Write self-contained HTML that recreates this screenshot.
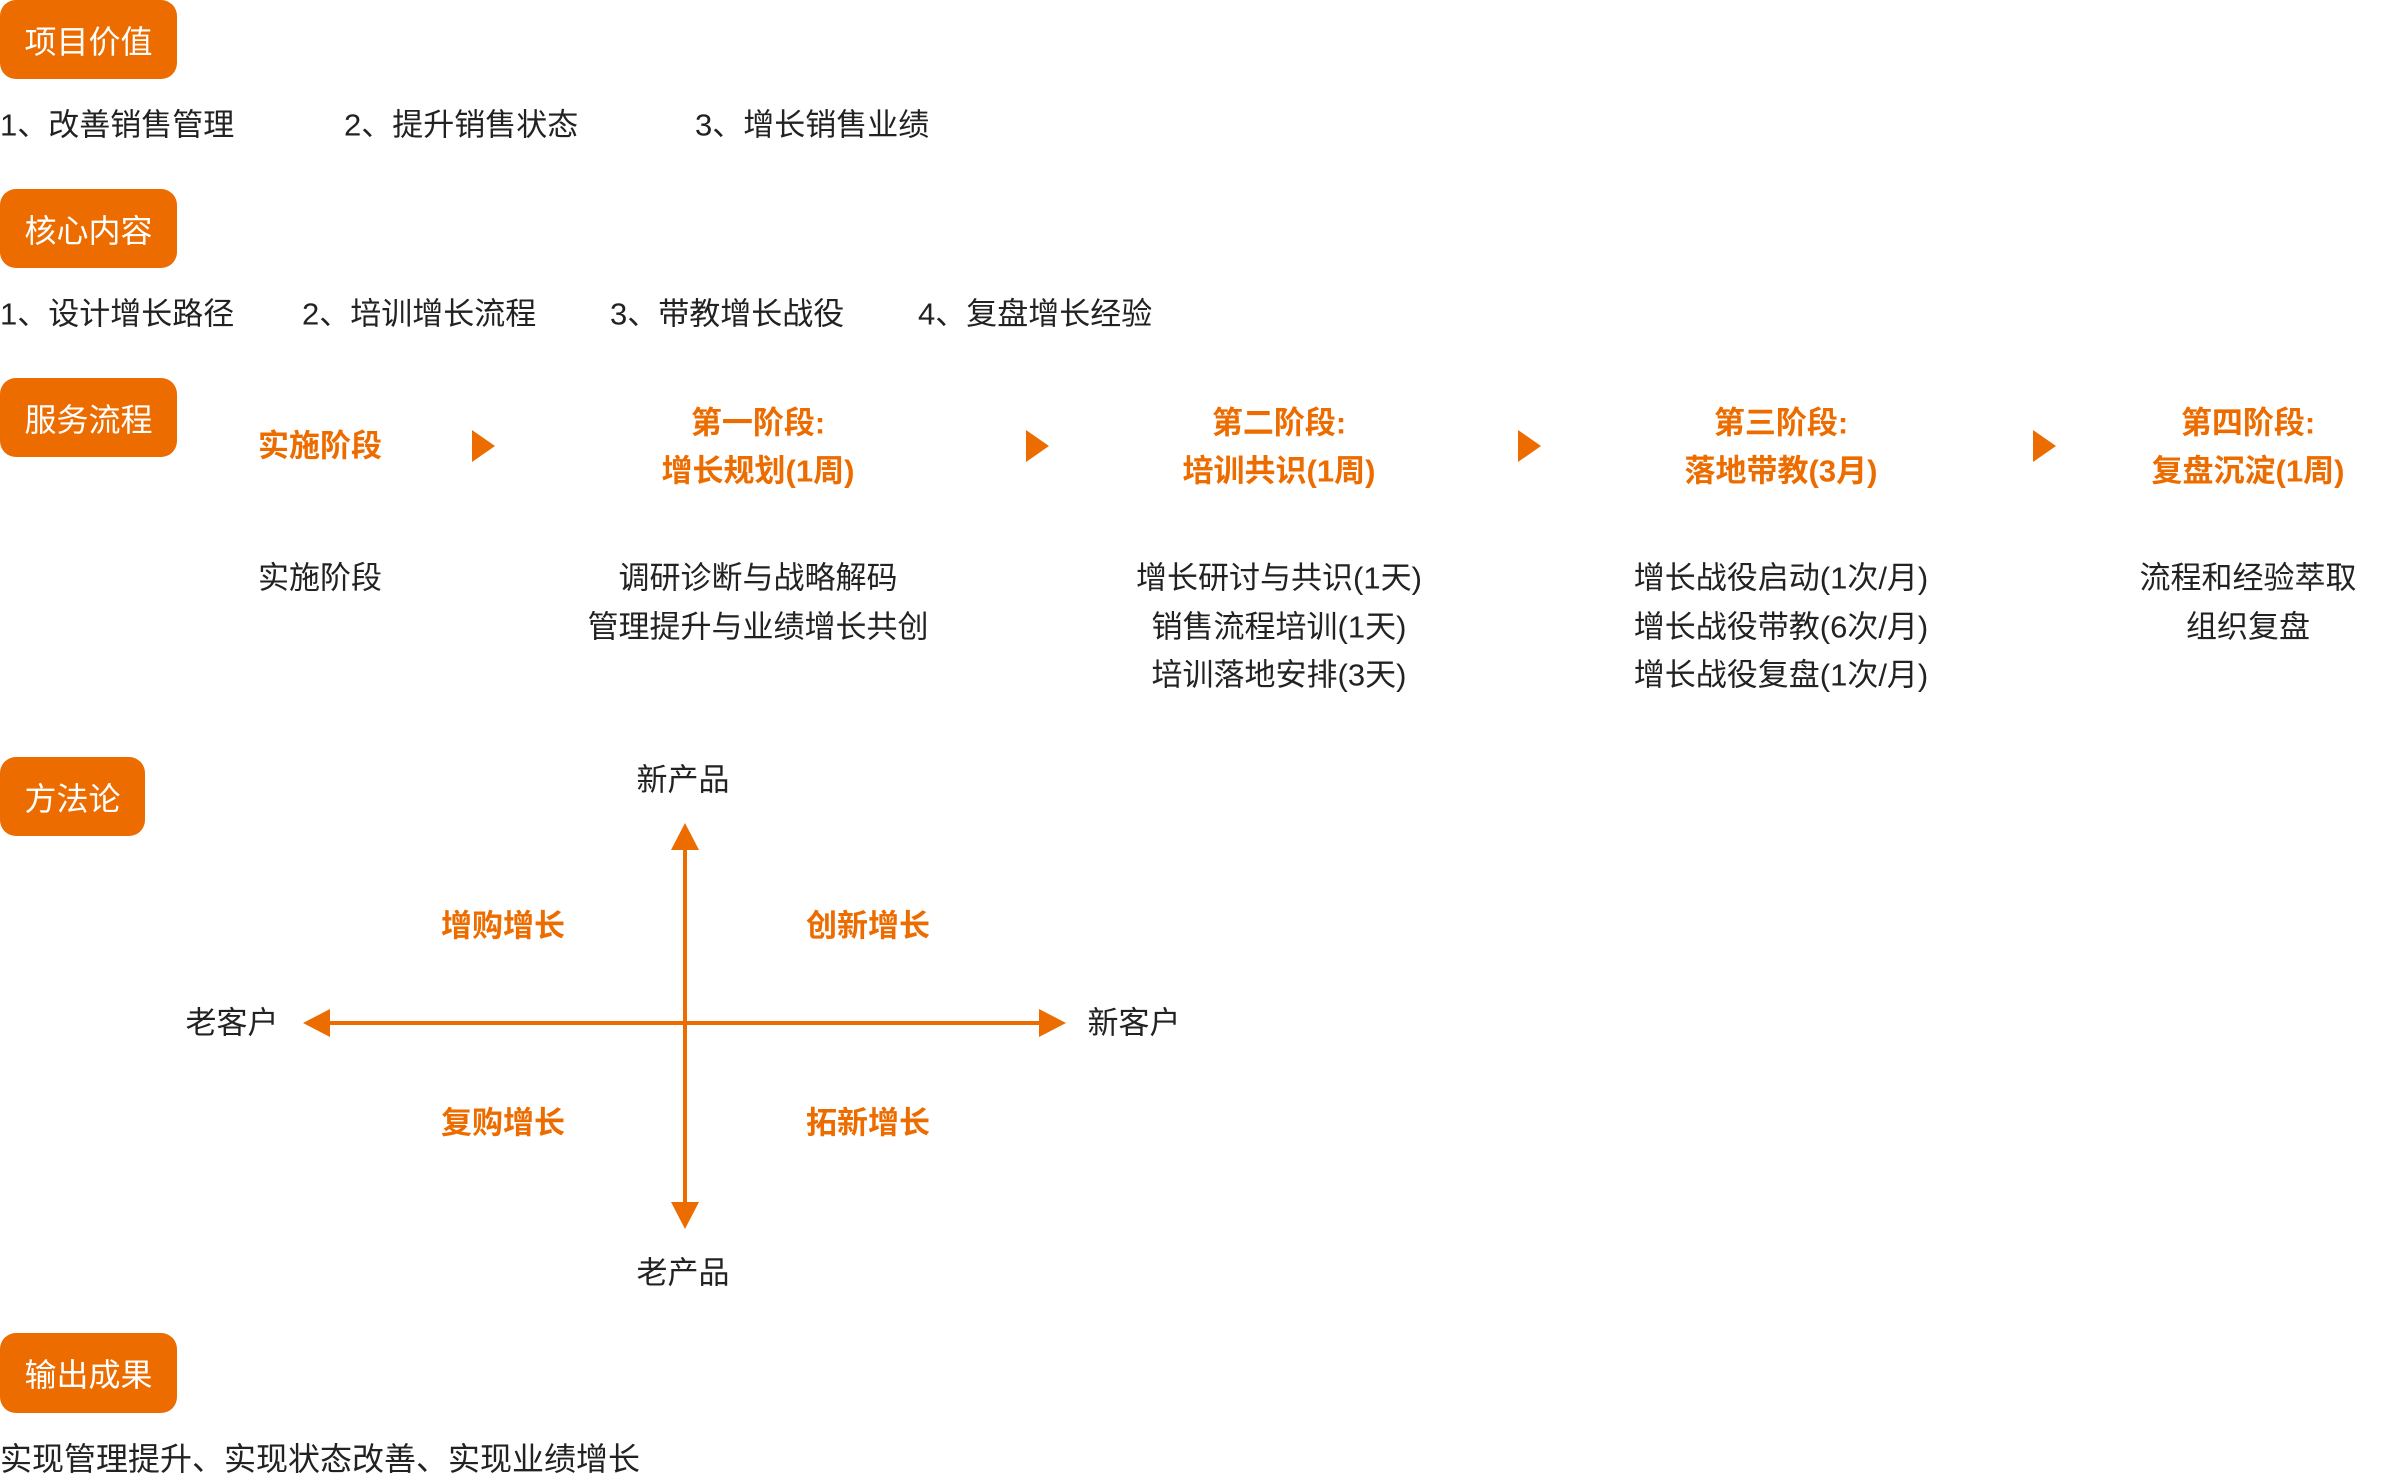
<!DOCTYPE html>
<html><head><meta charset="utf-8"><style>
body{margin:0;width:2400px;height:1480px;background:#fff;position:relative;overflow:hidden;font-family:"Liberation Sans","Noto Sans CJK SC",sans-serif;color:#222;}
.b{position:absolute;left:0;background:#EC6C00;color:#fff;border-radius:16px;font-size:32px;display:flex;align-items:center;justify-content:center;height:79px;}
.t{position:absolute;font-size:31px;white-space:nowrap;line-height:1;transform:translateY(-50%);}
.c{position:absolute;font-size:31px;white-space:nowrap;line-height:1;transform:translate(-50%,-50%);text-align:center;}
.o{color:#EC6C00;font-weight:bold;}
.ar{position:absolute;width:0;height:0;border-top:16px solid transparent;border-bottom:16px solid transparent;border-left:23px solid #EC6C00;}
</style></head><body>
<div class="b" style="top:0;width:177px">项目价值</div>
<div class="t" style="left:0;top:125px">1、改善销售管理</div>
<div class="t" style="left:344px;top:125px">2、提升销售状态</div>
<div class="t" style="left:695px;top:125px">3、增长销售业绩</div>
<div class="b" style="top:189px;width:177px">核心内容</div>
<div class="t" style="left:0;top:314px">1、设计增长路径</div>
<div class="t" style="left:302px;top:314px">2、培训增长流程</div>
<div class="t" style="left:610px;top:314px">3、带教增长战役</div>
<div class="t" style="left:918px;top:314px">4、复盘增长经验</div>
<div class="b" style="top:378px;width:177px">服务流程</div>
<div class="t o" style="left:258px;top:446px">实施阶段</div>
<div class="ar" style="left:472px;top:430px"></div>
<div class="ar" style="left:1026px;top:430px"></div>
<div class="ar" style="left:1518px;top:430px"></div>
<div class="ar" style="left:2033px;top:430px"></div>
<div class="c o" style="left:758px;top:423px">第一阶段:</div>
<div class="c o" style="left:758px;top:471px">增长规划(1周)</div>
<div class="c o" style="left:1279px;top:423px">第二阶段:</div>
<div class="c o" style="left:1279px;top:471px">培训共识(1周)</div>
<div class="c o" style="left:1781px;top:423px">第三阶段:</div>
<div class="c o" style="left:1781px;top:471px">落地带教(3月)</div>
<div class="c o" style="left:2248px;top:423px">第四阶段:</div>
<div class="c o" style="left:2248px;top:471px">复盘沉淀(1周)</div>
<div class="t" style="left:258px;top:578px">实施阶段</div>
<div class="c" style="left:758px;top:578px">调研诊断与战略解码</div>
<div class="c" style="left:758px;top:627px">管理提升与业绩增长共创</div>
<div class="c" style="left:1279px;top:578px">增长研讨与共识(1天)</div>
<div class="c" style="left:1279px;top:627px">销售流程培训(1天)</div>
<div class="c" style="left:1279px;top:675px">培训落地安排(3天)</div>
<div class="c" style="left:1781px;top:578px">增长战役启动(1次/月)</div>
<div class="c" style="left:1781px;top:627px">增长战役带教(6次/月)</div>
<div class="c" style="left:1781px;top:675px">增长战役复盘(1次/月)</div>
<div class="c" style="left:2248px;top:578px">流程和经验萃取</div>
<div class="c" style="left:2248px;top:627px">组织复盘</div>
<div class="b" style="top:757px;width:145px">方法论</div>
<svg style="position:absolute;left:0;top:0" width="2400" height="1480">
<g stroke="#EC6C00" stroke-width="4" fill="none">
<line x1="685" y1="846" x2="685" y2="1205"/>
<line x1="326" y1="1023" x2="1043" y2="1023"/>
</g>
<g fill="#EC6C00">
<polygon points="685,823 671,850 699,850"/>
<polygon points="685,1229 671,1202 699,1202"/>
<polygon points="303,1023 330,1009 330,1037"/>
<polygon points="1066,1023 1039,1009 1039,1037"/>
</g>
</svg>
<div class="c" style="left:683px;top:780px">新产品</div>
<div class="c" style="left:683px;top:1273px">老产品</div>
<div class="c" style="left:232px;top:1023px">老客户</div>
<div class="c" style="left:1134px;top:1023px">新客户</div>
<div class="c o" style="left:503px;top:926px">增购增长</div>
<div class="c o" style="left:868px;top:926px">创新增长</div>
<div class="c o" style="left:503px;top:1123px">复购增长</div>
<div class="c o" style="left:868px;top:1123px">拓新增长</div>
<div class="b" style="top:1333px;width:177px;height:80px">输出成果</div>
<div class="t" style="left:0;top:1459px;font-size:32px">实现管理提升、实现状态改善、实现业绩增长</div>
</body></html>
